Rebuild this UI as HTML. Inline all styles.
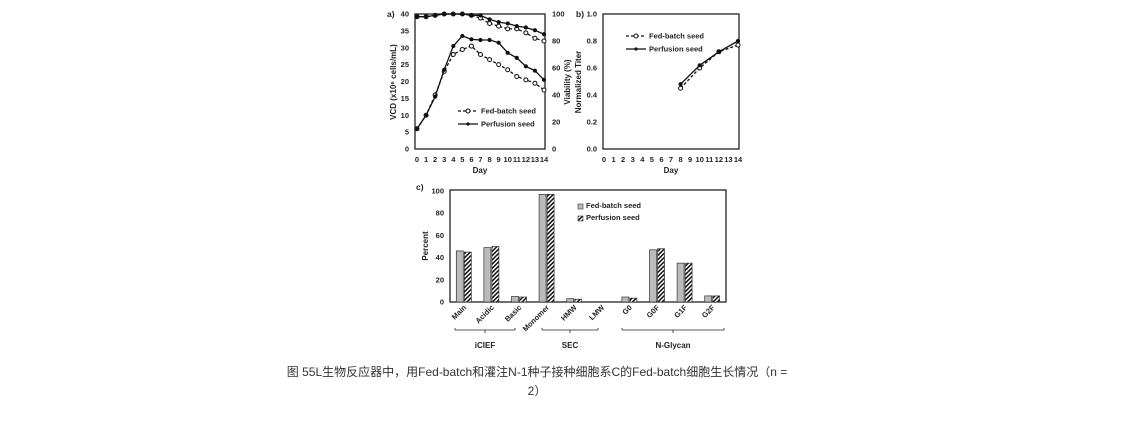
<!DOCTYPE html>
<html><head><meta charset="utf-8"><style>
body{margin:0;background:#fff;width:1139px;height:427px;overflow:hidden;position:relative;font-family:"Liberation Sans",sans-serif}
svg{position:absolute;left:0;top:0}
.cap{position:absolute;left:237px;width:600px;top:363px;font:12px/19px "Liberation Sans","Noto Sans CJK SC",sans-serif;color:#333;text-align:center;white-space:nowrap}
</style></head><body>
<svg id="fig" width="1139" height="427" font-family="Liberation Sans, sans-serif" font-weight="bold" font-size="7.5">
<defs><pattern id="hatch" width="3" height="3" patternUnits="userSpaceOnUse" patternTransform="rotate(45)"><rect width="3" height="3" fill="#fff"/><rect width="1.5" height="3" fill="#111"/></pattern></defs>
</svg>
<div class="cap">图 55L生物反应器中，用Fed-batch和灌注N-1种子接种细胞系C的Fed-batch细胞生长情况（n =<br>2）</div>
<script>
const days=[0,1,2,3,4,5,6,7,8,9,10,11,12,13,14];
const vcdFed=[6,10,16,23,28,29.5,30.5,28,26.5,25,23.5,21.5,20.5,19.5,17.5];
const vcdPerf=[6,10,15.5,23.5,30.5,33.5,32.5,32.3,32.3,31.5,28.5,27,24.5,23.2,20.5];
const viaFed=[98,98,99,100,100,100,99,97,93,91,89,89,86,82,80];
const viaPerf=[98,98,99,100,100,100,99,99,96,94,93,91,90,88,85];
const titerDays=[8,10,12,14];
const titerFed=[0.45,0.60,0.72,0.77];
const titerPerf=[0.48,0.62,0.72,0.80];
const cats=["Main","Acidic","Basic","Monomer","HMW","LMW","G0","G0F","G1F","G2F"];
const pctFed=[46,49,5,97,3,0,4.5,47,35,5.5];
const pctPerf=[45,50,4.5,97,2.5,0,3.5,48,35,5.5];
const vcdTicks=[0,5,10,15,20,25,30,35,40];
const viaTicks=[0,20,40,60,80,100];
const titerTicks=[0,0.2,0.4,0.6,0.8,1.0];
const pctTicks=[0,20,40,60,80,100];

const svg=document.getElementById('fig');const NS='http://www.w3.org/2000/svg';
function mk(t,a,p){const e=document.createElementNS(NS,t);for(const k in a)e.setAttribute(k,a[k]);(p||svg).appendChild(e);return e;}
function txt(x,y,s,a,p){const e=mk('text',Object.assign({x:x,y:y,fill:'#222'},a||{}),p);e.textContent=s;return e;}

// ---- chart a
const ax=d=>417+d*(544-417)/14, ayL=v=>149-v*(149-14)/40, ayR=v=>149-v*(149-14)/100;
const ga=mk('g',{});
mk('rect',{x:415,y:14,width:130,height:135,fill:'none',stroke:'#222','stroke-width':1.3},ga);
vcdTicks.forEach(v=>{const t=txt(409,ayL(v)+2.5,String(v),{'text-anchor':'end'},ga);});
viaTicks.forEach(v=>{const t=txt(552,ayR(v)+2.5,String(v),{},ga);});
days.forEach(d=>{const t=txt(ax(d),162,String(d),{'text-anchor':'middle'},ga);});
let t=txt(480,173,'Day',{'text-anchor':'middle','font-size':8},ga);
t=txt(0,0,'VCD (x10⁶ cells/mL)',{'text-anchor':'middle','font-size':8,transform:'translate(396,82) rotate(-90)'},ga);
t=txt(0,0,'Viability (%)',{'text-anchor':'middle','font-size':8,transform:'translate(570,82) rotate(-90)'},ga);
t=txt(387,17,'a) ',{'font-size':8.5},ga);
function series(xs,ys,fx,fy,dash,open,name,g){
  const p=mk('polyline',{points:xs.map((x,i)=>fx(x)+','+fy(ys[i])).join(' '),fill:'none',stroke:'#111','stroke-width':1.3,'stroke-dasharray':dash?'3,2':'none'},g);
  
  xs.forEach((x,i)=>{const c=mk('circle',{cx:fx(x),cy:fy(ys[i]),r:open?2:1.6,fill:open?'#fff':'#111',stroke:'#111','stroke-width':1},g);});
}
series(days,viaFed,ax,ayR,true,true,'viability-fed',ga);
series(days,viaPerf,ax,ayR,false,false,'viability-perfusion',ga);
series(days,vcdFed,ax,ayL,true,true,'vcd-fed',ga);
series(days,vcdPerf,ax,ayL,false,false,'vcd-perfusion',ga);
function legend(x,y,g,pre){
  mk('line',{x1:x,y1:y,x2:x+20,y2:y,stroke:'#111','stroke-dasharray':'3,2','stroke-width':1.3},g);
  mk('circle',{cx:x+10,cy:y,r:2,fill:'#fff',stroke:'#111'},g);
  let l=txt(x+23,y+2.5,'Fed-batch seed',{},g);
  mk('line',{x1:x,y1:y+13,x2:x+20,y2:y+13,stroke:'#111','stroke-width':1.3},g);
  mk('circle',{cx:x+10,cy:y+13,r:1.6,fill:'#111'},g);
  l=txt(x+23,y+15.5,'Perfusion seed',{},g);
}
legend(458,111,ga,'a');

// ---- chart b
const bx=d=>604+d*(738-604)/14, by=v=>149-v*135;
const gb=mk('g',{});
mk('rect',{x:603,y:14,width:136,height:135,fill:'none',stroke:'#222','stroke-width':1.3},gb);
titerTicks.forEach(v=>{const t=txt(597,by(v)+2.5,v.toFixed(1),{'text-anchor':'end'},gb);});
days.forEach(d=>{const t=txt(bx(d),162,String(d),{'text-anchor':'middle'},gb);});
t=txt(671,173,'Day',{'text-anchor':'middle','font-size':8},gb);
t=txt(0,0,'Normalized Titer',{'text-anchor':'middle','font-size':8,transform:'translate(581,82) rotate(-90)'},gb);
t=txt(576,17,'b) ',{'font-size':8.5},gb);
series(titerDays,titerFed,bx,by,true,true,'titer-fed',gb);
series(titerDays,titerPerf,bx,by,false,false,'titer-perfusion',gb);
legend(626,36,gb,'b');

// ---- chart c
const cy=v=>302-v*(302-191)/100, bw=27.6, cx0=450;
const gc=mk('g',{});
mk('rect',{x:450,y:190,width:276,height:112,fill:'none',stroke:'#222','stroke-width':1.3},gc);
pctTicks.forEach(v=>{const t=txt(444,cy(v)+2.5,String(v),{'text-anchor':'end'},gc);});
t=txt(0,0,'Percent',{'text-anchor':'middle','font-size':8,transform:'translate(428,246) rotate(-90)'},gc);
t=txt(416,190,'c)',{'font-size':8.5},gc);
cats.forEach((c,i)=>{
  const m=cx0+bw*(i+0.5);
  if(pctFed[i]>0){const r=mk('rect',{x:m-7.5,y:cy(pctFed[i]),width:7,height:302-cy(pctFed[i]),fill:'#bbb',stroke:'#333','stroke-width':0.7},gc);}
  if(pctPerf[i]>0){const r=mk('rect',{x:m+0.5,y:cy(pctPerf[i]),width:7,height:302-cy(pctPerf[i]),fill:'url(#hatch)',stroke:'#333','stroke-width':0.7},gc);}
  const l=txt(0,0,c,{'text-anchor':'end',transform:'translate('+(m+3)+',308) rotate(-45)'},gc);
});
mk('rect',{x:578,y:204,width:5,height:5,fill:'#bbb',stroke:'#333','stroke-width':0.6},gc);
t=txt(586,208,'Fed-batch seed',{},gc);
mk('rect',{x:578,y:216,width:5,height:5,fill:'url(#hatch)',stroke:'#333','stroke-width':0.6},gc);
t=txt(586,220,'Perfusion seed',{},gc);
[[455,515,'iCIEF'],[542,598,'SEC'],[622,724,'N-Glycan']].forEach(g=>{
  mk('path',{d:'M'+g[0]+' 330 H'+g[1]+' M'+g[0]+' 330 v-2 M'+g[1]+' 330 v-2 M'+((g[0]+g[1])/2)+' 330 v3',stroke:'#222','stroke-width':0.8,fill:'none'},gc);
  const l=txt((g[0]+g[1])/2,348,g[2],{'text-anchor':'middle','font-size':8},gc);
});
</script>
</body></html>
